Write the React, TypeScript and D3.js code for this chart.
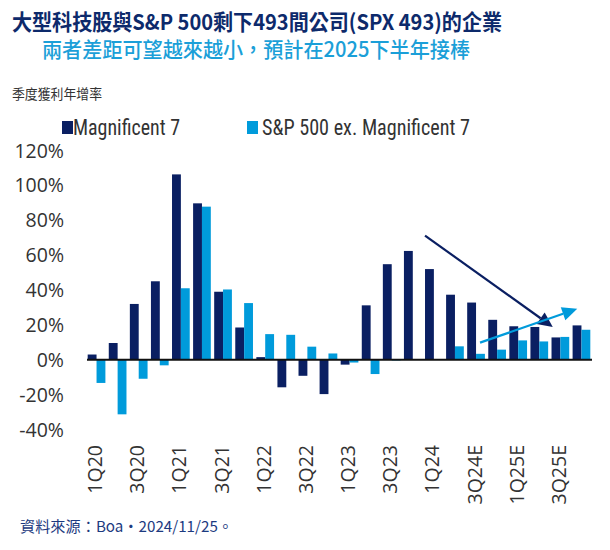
import React from "react";
import * as d3 from "d3";

const categories = [
  "1Q20", "2Q20", "3Q20", "4Q20", "1Q21", "2Q21", "3Q21", "4Q21",
  "1Q22", "2Q22", "3Q22", "4Q22", "1Q23", "2Q23", "3Q23", "4Q23",
  "1Q24", "2Q24", "3Q24E", "4Q24E", "1Q25E", "2Q25E", "3Q25E", "4Q25E",
];
const mag7 = [
  3, 9.6, 32, 45, 106.3, 89.7, 39, 18.5,
  1.5, -15.8, -9.2, -19.7, -2.8, 31.2, 54.8, 62.4,
  52, 37.3, 32.8, 22.9, 19.2, 18.8, 12.8, 19.7,
];
const sp493 = [
  -13.3, -31.3, -10.9, -3.2, 41, 87.8, 40.3, 32.5,
  14.7, 14.3, 7.5, 3.6, -1.6, -8.2, -0.4, 0,
  0, 7.7, 3.4, 5.8, 11.1, 10.5, 13.1, 17.2,
];
const tickLabels = categories.filter((_, i) => i % 2 === 0);
const yTicks = [-40, -20, 0, 20, 40, 60, 80, 100, 120];
const seriesNames = ["Magnificent 7", "S&P 500 ex. Magnificent 7"];

// annotation arrows: [categoryIndex (fractional), value]
const downArrow = [[15.58, 71.2], [21.64, 18.8]];
const upArrow = [[18.19, 9.8], [22.8, 29.2]];

const NAVY = "#0a1f62";
const BLUE = "#009bdb";
const COND = "'Liberation Sans Narrow', 'Roboto Condensed', 'DejaVu Sans Condensed', 'Arial Narrow', sans-serif";
const TICK = "'Open Sans', 'Liberation Sans', sans-serif";
const CJK = "'Noto Sans CJK TC', 'Noto Sans CJK SC', sans-serif";

export default function App() {
  const W = 610, H = 550;
  const x = d3.scaleBand<string>().domain(categories).range([86, 592]).paddingInner(0.16).paddingOuter(0.08);
  const y = d3.scaleLinear().domain([-40, 120]).range([429.5, 150.5]);
  const bw = x.bandwidth() / 2;
  const cx = (i: number) => (x(categories[0]) as number) + i * x.step() + x.bandwidth() / 2;

  const arrow = (pts: number[][], color: string, id: string) => {
    const [p0, p1] = pts;
    const x0 = cx(p0[0]), y0 = y(p0[1]), x1 = cx(p1[0]), y1 = y(p1[1]);
    const ang = Math.atan2(y1 - y0, x1 - x0);
    const len = 15, half = 7;
    const bx = x1 - len * Math.cos(ang), by = y1 - len * Math.sin(ang);
    const nx = -Math.sin(ang), ny = Math.cos(ang);
    const tri = d3.path();
    tri.moveTo(x1, y1);
    tri.lineTo(bx + nx * half, by + ny * half);
    tri.lineTo(bx - nx * half, by - ny * half);
    tri.closePath();
    return (
      <g key={id}>
        <line x1={x0} y1={y0} x2={bx} y2={by} stroke={color} strokeWidth={2.2} />
        <path d={tri.toString()} fill={color} />
      </g>
    );
  };

  return (
    <svg width={W} height={H} style={{ display: "block", position: "absolute", left: 0, top: 0 }}>
      <rect width={W} height={H} fill="#fff" />
      <text x={12} y={30} textLength={490} lengthAdjust="spacingAndGlyphs" fontFamily={CJK} fontWeight={700} fontSize={21.5} fill="#0d2a6b">
        大型科技股與S&amp;P 500剩下493間公司(SPX 493)的企業
      </text>
      <text x={42} y={57} textLength={428} lengthAdjust="spacingAndGlyphs" fontFamily={CJK} fontWeight={500} fontSize={21} fill="#1b9fd8">
        兩者差距可望越來越小，預計在2025下半年接棒
      </text>
      <text x={12} y={99} textLength={90} lengthAdjust="spacingAndGlyphs" fontFamily={CJK} fontSize={13.5} fill="#333">季度獲利年增率</text>

      {/* legend */}
      <rect x={62} y={121} width={11} height={13} fill={NAVY} />
      <text x={73} y={135} textLength={107} lengthAdjust="spacingAndGlyphs" fontFamily={COND} fontSize={22} fill="#333">{seriesNames[0]}</text>
      <rect x={247} y={121} width={11} height={13} fill={BLUE} />
      <text x={262} y={135} textLength={208} lengthAdjust="spacingAndGlyphs" fontFamily={COND} fontSize={22} fill="#333">{seriesNames[1]}</text>

      {/* y tick labels */}
      {yTicks.map((t) => (
        <text key={t} x={64} y={y(t)} dy="0.36em" textAnchor="end" fontFamily={TICK} fontSize={19.5} fill="#333">
          {`${t}%`}
        </text>
      ))}

      {/* bars */}
      {categories.map((c, i) => {
        const x0 = x(c) as number;
        const v1 = mag7[i], v2 = sp493[i];
        return (
          <g key={c}>
            <rect x={x0} y={y(Math.max(0, v1))} width={bw} height={Math.abs(y(v1) - y(0))} fill={NAVY} />
            <rect x={x0 + bw} y={y(Math.max(0, v2))} width={bw} height={Math.abs(y(v2) - y(0))} fill={BLUE} />
          </g>
        );
      })}

      {/* zero axis */}
      <line x1={87} x2={592} y1={y(0)} y2={y(0)} stroke="#111" strokeWidth={1.8} />

      {/* x labels */}
      {tickLabels.map((c) => {
        const px = (x(c) as number) + x.bandwidth() / 2 - 1.5;
        return (
          <text key={c} transform={`translate(${px},445) rotate(-90)`} dy="0.36em" textAnchor="end"
            fontFamily={TICK} fontSize={19.5} fill="#333">
            {c}
          </text>
        );
      })}

      {arrow(downArrow, NAVY, "down")}
      {arrow(upArrow, BLUE, "up")}

      <text x={20} y={532} textLength={213} lengthAdjust="spacingAndGlyphs" fontFamily={CJK} fontSize={15} fill="#1c3a80">資料來源：Boa・2024/11/25。</text>
    </svg>
  );
}
